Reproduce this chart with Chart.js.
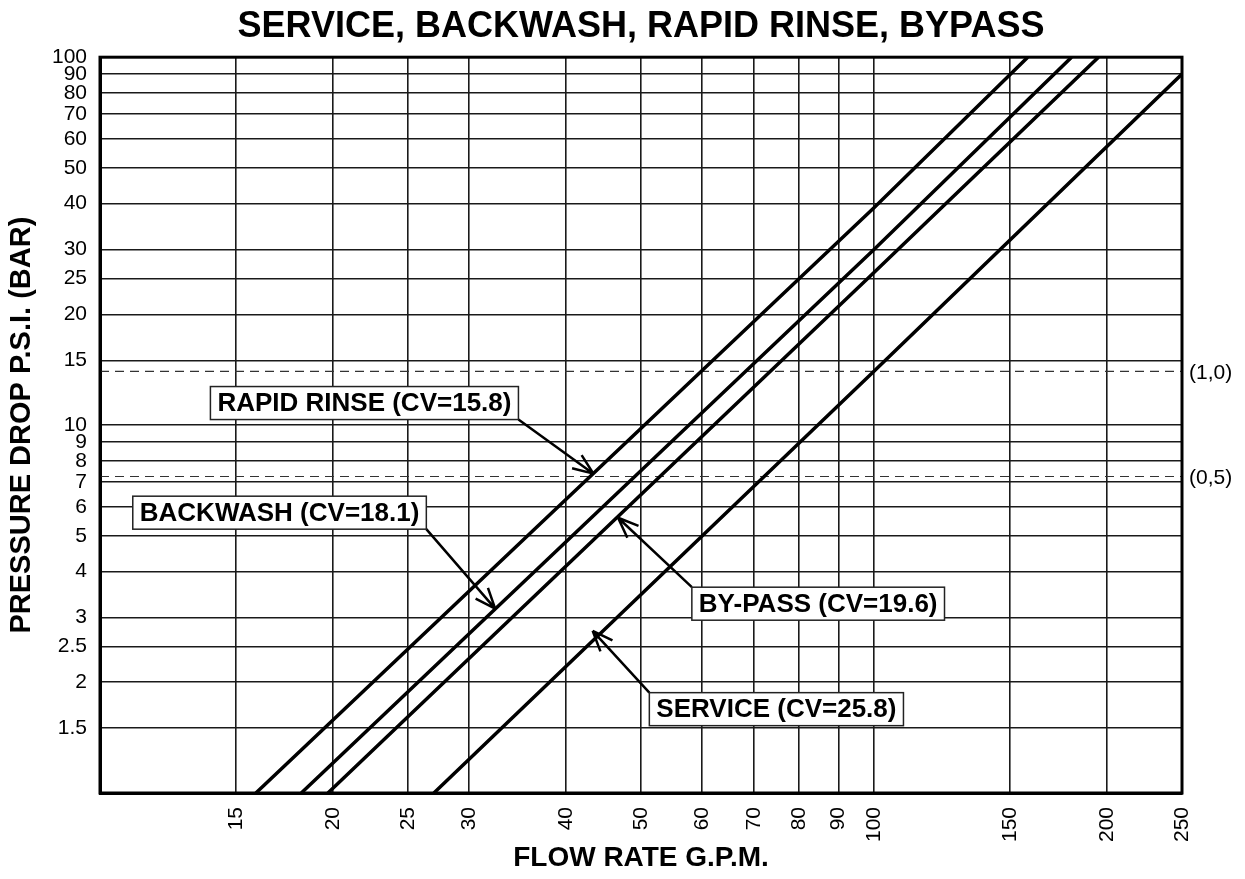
<!DOCTYPE html>
<html>
<head>
<meta charset="utf-8">
<title>Service, Backwash, Rapid Rinse, Bypass</title>
<script src="https://cdn.jsdelivr.net/npm/chart.js@4.4.1/dist/chart.umd.min.js"></script>
<style>
  html, body { margin: 0; padding: 0; background: #fff; }
  #wrap { width: 1245px; height: 879px; }
</style>
</head>
<body>
<div id="wrap"><canvas id="chart" width="1245" height="879"></canvas></div>
<script>
// --- Data (flow in G.P.M., pressure drop in P.S.I.) ---
const xTicks = [15, 20, 25, 30, 40, 50, 60, 70, 80, 90, 100, 150, 200, 250];
const yTicks = [1.5, 2, 2.5, 3, 4, 5, 6, 7, 8, 9, 10, 15, 20, 25, 30, 40, 50, 60, 70, 80, 90, 100];

const rapidRinseFlow = [15.9, 100, 158];
const rapidRinseDrop = [1, 39, 100];
const backwashFlow = [18.2, 100, 180];
const backwashDrop = [1, 30, 100];
const bypassFlow = [19.7, 100, 195];
const bypassDrop = [1, 26, 100];
const serviceFlow = [27, 100, 250];
const serviceDrop = [1, 14, 90];

// bar reference lines
const barDrop = [14.0, 7.25];
const barLabels = ['(1,0)', '(0,5)'];

// callouts: label, box centre, arrow tip, which box corner the arrow leaves from
const calloutText = ['RAPID RINSE (CV=15.8)', 'BACKWASH (CV=18.1)', 'BY-PASS (CV=19.6)', 'SERVICE (CV=25.8)'];
const calloutX = [21.96, 17.06, 84.7, 74.8];
const calloutY = [11.48, 5.78, 3.27, 1.69];
const tipX = [43.4, 32.4, 46.7, 43.3];
const tipY = [7.38, 3.17, 5.6, 2.76];
const tailCorner = ['br', 'br', 'tl', 'tl'];

const FONT = '"Liberation Sans", Arial, Helvetica, sans-serif';
Chart.defaults.font.family = FONT;
Chart.defaults.color = '#000';

function toPoints(xs, ys) {
    return xs.map((x, i) => ({ x: x, y: ys[i] }));
}

function curve(xs, ys) {
    return {
        data: toPoints(xs, ys),
        borderColor: '#000',
        borderWidth: 3.5,
        pointRadius: 0,
        tension: 0,
        fill: false
    };
}

function dashed(v) {
    return {
        data: toPoints([10, 250], [v, v]),
        borderColor: '#333',
        borderWidth: 1.2,
        borderDash: [9, 6],
        pointRadius: 0,
        fill: false
    };
}

// frame, right-hand bar labels and the boxed callouts with arrows
const decorPlugin = {
    id: 'decor',
    afterDatasetsDraw(chart) {
        const { ctx, chartArea: a, scales: { x, y } } = chart;
        ctx.save();

        ctx.strokeStyle = '#000';
        ctx.lineWidth = 3;
        ctx.strokeRect(a.left, a.top, a.right - a.left, a.bottom - a.top);

        ctx.font = '21px ' + FONT;
        ctx.fillStyle = '#000';
        ctx.textAlign = 'left';
        ctx.textBaseline = 'middle';
        barDrop.forEach((v, i) => {
            ctx.fillText(barLabels[i], a.right + 7, y.getPixelForValue(v) + 2);
        });

        ctx.font = 'bold 26px ' + FONT;
        calloutText.forEach((t, i) => {
            const cx = x.getPixelForValue(calloutX[i]);
            const cy = y.getPixelForValue(calloutY[i]);
            const w = ctx.measureText(t).width + 14;
            const h = 33;
            const left = cx - w / 2, top = cy - h / 2;

            // arrow
            const sx = tailCorner[i] === 'br' ? left + w : left;
            const sy = tailCorner[i] === 'br' ? top + h : top;
            const ex = x.getPixelForValue(tipX[i]);
            const ey = y.getPixelForValue(tipY[i]);
            const ang = Math.atan2(ey - sy, ex - sx);
            ctx.strokeStyle = '#000';
            ctx.lineWidth = 2.5;
            ctx.beginPath();
            ctx.moveTo(sx, sy);
            ctx.lineTo(ex, ey);
            [-0.38, 0.38].forEach(d => {
                ctx.moveTo(ex, ey);
                ctx.lineTo(ex - 22 * Math.cos(ang + d), ey - 22 * Math.sin(ang + d));
            });
            ctx.stroke();

            // box
            ctx.fillStyle = '#fff';
            ctx.fillRect(left, top, w, h);
            ctx.lineWidth = 1.5;
            ctx.strokeStyle = '#222';
            ctx.strokeRect(left, top, w, h);
            ctx.fillStyle = '#000';
            ctx.textAlign = 'center';
            ctx.fillText(t, cx, cy + 1);
        });
        ctx.restore();
    }
};

new Chart(document.getElementById('chart'), {
    type: 'line',
    data: {
        datasets: [
            curve(rapidRinseFlow, rapidRinseDrop),
            curve(backwashFlow, backwashDrop),
            curve(bypassFlow, bypassDrop),
            curve(serviceFlow, serviceDrop),
            dashed(barDrop[0]),
            dashed(barDrop[1])
        ]
    },
    options: {
        responsive: false,
        animation: false,
        events: [],
        layout: { padding: { left: 0, right: 63, top: 0, bottom: 0 } },
        plugins: {
            legend: { display: false },
            tooltip: { enabled: false },
            title: {
                display: true,
                fullSize: false,
                text: 'SERVICE, BACKWASH, RAPID RINSE, BYPASS',
                color: '#000',
                font: { size: 36, weight: 'bold' },
                padding: { top: 5, bottom: 9 }
            }
        },
        scales: {
            x: {
                type: 'logarithmic',
                min: 10,
                max: 250,
                afterBuildTicks: s => { s.ticks = xTicks.map(v => ({ value: v })); },
                afterFit: s => { s.height = 86; },
                ticks: {
                    autoSkip: false,
                    minRotation: 90,
                    maxRotation: 90,
                    padding: 14,
                    color: '#000',
                    font: { size: 21 },
                    callback: v => String(v)
                },
                grid: { color: '#1a1a1a', lineWidth: 1.6, drawTicks: false },
                border: { color: '#000', width: 3 },
                title: {
                    display: true,
                    text: 'FLOW RATE G.P.M.',
                    color: '#000',
                    font: { size: 28, weight: 'bold' },
                    padding: { top: 0, bottom: 4 }
                }
            },
            y: {
                type: 'logarithmic',
                min: 1,
                max: 100,
                afterBuildTicks: s => { s.ticks = yTicks.map(v => ({ value: v })); },
                afterFit: s => { s.width = 100; },
                ticks: {
                    autoSkip: false,
                    padding: 13,
                    color: '#000',
                    font: { size: 21 },
                    callback: v => String(v)
                },
                grid: { color: '#1a1a1a', lineWidth: 1.6, drawTicks: false },
                border: { color: '#000', width: 3 },
                title: {
                    display: true,
                    text: 'PRESSURE DROP P.S.I. (BAR)',
                    color: '#000',
                    font: { size: 29, weight: 'bold' },
                    padding: { top: 5, bottom: 0 }
                }
            }
        }
    },
    plugins: [decorPlugin]
});
</script>
</body>
</html>
